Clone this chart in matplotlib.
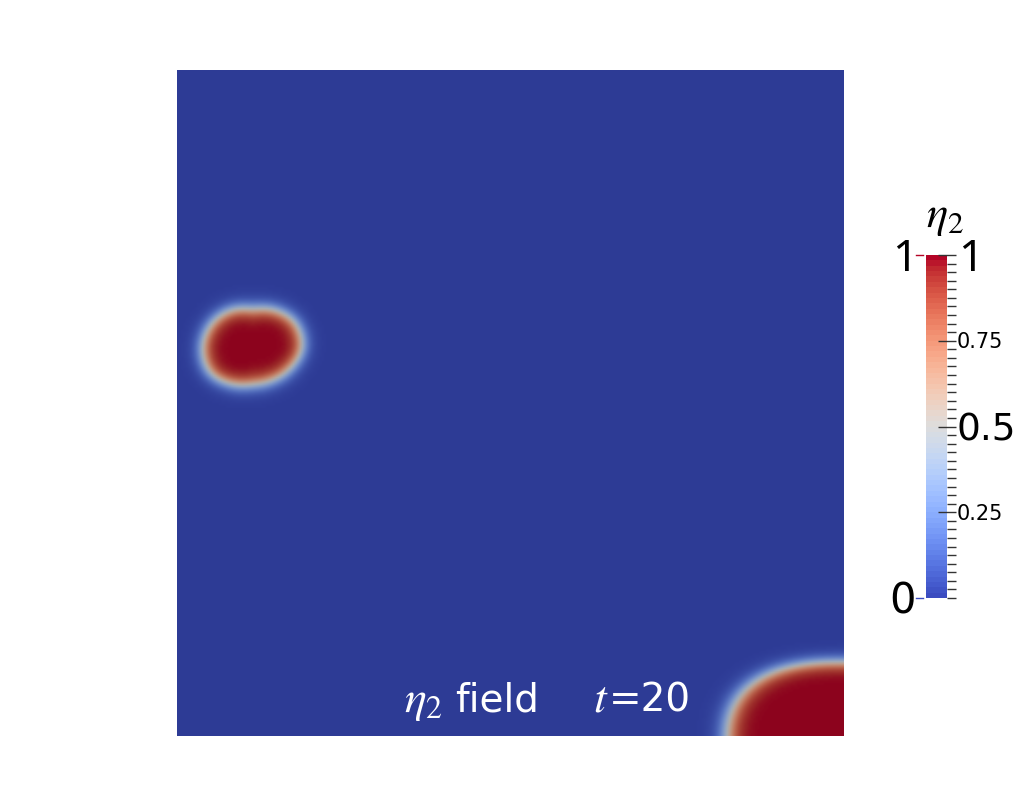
import numpy as np
import matplotlib
matplotlib.use("Agg")
import matplotlib.pyplot as plt
from matplotlib.colors import ListedColormap
from matplotlib.transforms import blended_transform_factory

# blob shapes, domain units 0..100
blob1_center = (11.26, 58.48)
blob1_angles = [0, 30, 60, 90, 120, 150, 180, 210, 240, 270, 300, 330]
blob1_radii = [7.46, 7.30, 6.32, 5.48, 6.32, 7.04, 7.55, 7.57, 6.38, 5.53, 5.72, 6.40]
blob2_center = (100.3, -1.35)
blob2_radii = (17.7, 12.3)
blob2_power = 2.5
interface_width = 0.65
time_value = 20
cbar_major = [0.25, 0.5, 0.75, 1.0]
cbar_labels = ["0.25", "0.5", "0.75"]
cbar_label_vals = [0.25, 0.5, 0.75]
cbar_label_sizes = [15, 27, 15]

plt.rcParams['mathtext.fontset'] = 'stix'
plt.rcParams['font.family'] = ['DejaVu Sans']

W, H, DPI = 1021, 806, 100
fig = plt.figure(figsize=(W / DPI, H / DPI), dpi=DPI)

# build the eta_2 field on a grid
n = 300
xs = np.linspace(0, 100, n)
X, Y = np.meshgrid(xs, xs)

# radius vs angle: piecewise linear through the samples, then smoothed round the circle
fine = np.arange(720) / 2.0
r_fine = np.interp(fine, blob1_angles, blob1_radii, period=360)
k = np.arange(-60, 61) / 2.0
kern = np.exp(-0.5 * (k / 9.0) ** 2)
kern /= kern.sum()
r_pad = np.concatenate([r_fine[-60:], r_fine, r_fine[:60]])
r_smooth = np.convolve(r_pad, kern, mode='valid')

dx, dy = X - blob1_center[0], Y - blob1_center[1]
theta = np.rad2deg(np.arctan2(dy, dx)) % 360
r1 = np.interp(theta, fine, r_smooth, period=360)
d1 = r1 - np.hypot(dx, dy)

g = (np.abs(X - blob2_center[0]) / blob2_radii[0]) ** blob2_power + \
    (np.abs(Y - blob2_center[1]) / blob2_radii[1]) ** blob2_power
d2 = (1 - g ** (1 / blob2_power)) * 14.0

eta = 0.5 * (1 + np.tanh(np.maximum(d1, d2) / (2 * interface_width)))

base = plt.get_cmap('coolwarm')(np.linspace(0, 1, 256))
base[:, :3] *= 0.78
field_cmap = ListedColormap(base)

ax = fig.add_axes([177 / W, (H - 736) / H, 666 / W, 666 / H])
ax.imshow(eta, origin='lower', extent=[0, 100, 0, 100], cmap=field_cmap,
          vmin=0, vmax=1, interpolation='bilinear')
ax.set_axis_off()

base_y = 1 - 712 / H
fig.text(404 / W, base_y, r'$\eta_2$', color='white', fontsize=33, ha='left', va='baseline')
fig.text(455 / W, base_y, 'field', color='white', fontsize=28, ha='left', va='baseline')
fig.text(593 / W, base_y, r'$t$', color='white', fontsize=33, ha='left', va='baseline')
fig.text(609 / W, base_y, '=' + str(time_value), color='white', fontsize=28,
         ha='left', va='baseline')

# colour bar
cax = fig.add_axes([926 / W, (H - 598) / H, 21 / W, 343 / H])
sm = plt.cm.ScalarMappable(cmap=plt.get_cmap('coolwarm', 64),
                           norm=plt.Normalize(0, 1))
cb = fig.colorbar(sm, cax=cax)
cb.outline.set_visible(False)
cax.set_yticks(cbar_major)
cax.set_yticks(np.arange(0, 1.0001, 0.025), minor=True)
cax.set_yticklabels([])
cax.tick_params(which='major', direction='inout', length=13, width=1,
                color='#333333', right=True, left=False)
cax.tick_params(which='minor', direction='out', length=6.5, width=1,
                color='#333333', right=True, left=False)

bar_px = 343.0


def half_digit(fs):
    # half the digit height, in colour bar units
    return fs * DPI / 72 * 0.729 / 2 / bar_px


tr = blended_transform_factory(cax.transAxes, cax.transData)
for v, lab, fs in zip(cbar_label_vals, cbar_labels, cbar_label_sizes):
    cax.text(1.46, v - half_digit(fs), lab, transform=tr, fontsize=fs,
             ha='left', va='baseline')
cax.text(1.55, 1.0 - half_digit(32), '1', transform=tr, fontsize=32,
         ha='left', va='baseline', family='Noto Sans')
cax.text(-0.43, 1.0 - half_digit(32), '1', transform=tr, fontsize=32,
         ha='right', va='baseline', family='Noto Sans')
cax.text(-0.48, 0.0 - half_digit(30), '0', transform=tr, fontsize=30,
         ha='right', va='baseline')
cax.plot([-0.48, -0.14], [1, 1], transform=tr, color='#b40426', lw=1, clip_on=False)
cax.plot([-0.48, -0.14], [0, 0], transform=tr, color='#3b4cc0', lw=1, clip_on=False)

fig.text(945 / W, 1 - 217 / H, r'$\eta_2$', ha='center', va='center', fontsize=32)

fig.savefig('out.png', dpi=DPI)
